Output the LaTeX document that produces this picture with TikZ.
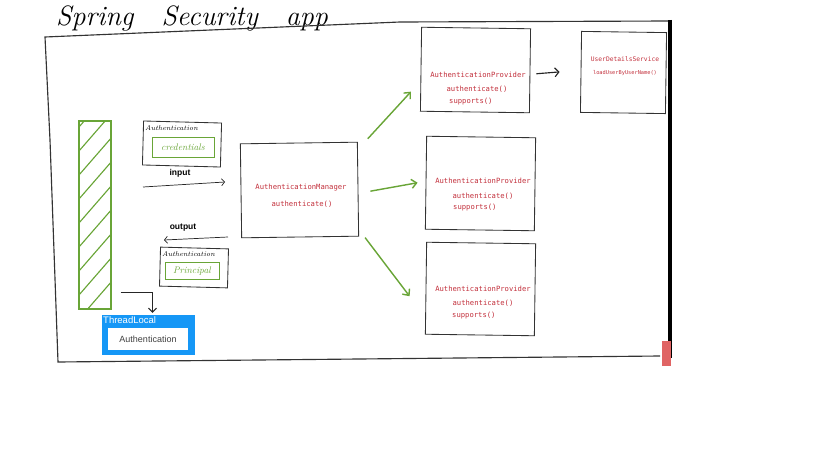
\documentclass[tikz,border=0pt]{standalone}
\usepackage{fontspec}
\setsansfont{Liberation Sans}
\setmonofont{DejaVu Sans Mono}
\usetikzlibrary{positioning,arrows.meta}

\definecolor{codered}{HTML}{C2303C}
\definecolor{sketchgreen}{HTML}{69A537}
\definecolor{tlblue}{HTML}{1597F6}
\definecolor{markred}{HTML}{E06464}

\tikzset{
  sketchbox/.style={draw=black!80, line width=0.3mm, inner sep=0pt},
  codetext/.style={text=codered, inner sep=0pt, font=\ttfamily\fontsize{7.2}{8}\selectfont},
  handlabel/.style={inner sep=0pt, font=\itshape\fontsize{7}{8}\selectfont},
  greenlabel/.style={draw=sketchgreen, text=sketchgreen, line width=0.3mm, inner sep=0pt, font=\itshape\fontsize{9.5}{10}\selectfont},
  flowtext/.style={inner sep=0pt, font=\sffamily\bfseries\fontsize{8.5}{9}\selectfont},
  greenarrow/.style={draw=sketchgreen, line width=0.5mm, -{Straight Barb[length=5pt,width=9pt]}},
  thinarrow/.style={draw=black!85, line width=0.25mm, -{Straight Barb[length=3pt,width=7pt]}},
}

\begin{document}
\begin{tikzpicture}[x=1pt, y=-1pt]
		%%%%% START %%%%%
		\useasboundingbox (0,0) rectangle (819,460);
		
		\node[anchor=base, inner sep=0pt, font=\itshape\fontsize{28}{30}\selectfont] (title) at (192,26) {Spring\quad Security\quad app};
		
		% outer frame
		\draw[line width=0.4mm, color=black!80] (670,21) -- (400,22) -- (45,37) -- (50,140) -- (58,362) -- (660,356);
		\draw[line width=1.3mm, color=black] (670,20) -- (670,358);
		\draw[fill=markred, draw=none] (662,341) rectangle (671,366);
		
		% security context
		\node[draw=sketchgreen, line width=0.45mm, minimum width=32pt, minimum height=188pt, inner sep=0pt,
			path picture={\foreach \k in {0,...,8}
				\draw[sketchgreen, line width=0.4mm] ([yshift=\k*24pt-10pt]path picture bounding box.south west) -- ++(40pt,46pt);}] (ctx) at (95,215) {};
		
		\node[fill=tlblue, minimum width=93pt, minimum height=40pt, inner sep=0pt] (tl) at (148.5,335) {};
		\node[anchor=north west, inner sep=0pt, text=white, font=\sffamily\fontsize{9.5}{10}\selectfont] (tllabel) at (103,316) {ThreadLocal};
		\node[fill=white, minimum width=80pt, minimum height=22pt, inner sep=0pt, text=black!75, font=\sffamily\fontsize{9}{10}\selectfont] (tlauth) at (148,339) {Authentication};
		\draw[line width=0.35mm, color=black!85, -{Straight Barb[length=4pt,width=8pt]}] ([xshift=9pt, yshift=17pt]ctx.south east) -| ([xshift=4pt, yshift=2pt]tl.north);
		
		% input
		\node[sketchbox, minimum width=78pt, minimum height=44pt, rotate=-1.5] (authin) at (182,144) {};
		\node[handlabel, anchor=west] (authinlabel) at (145,128) {Authentication};
		\node[greenlabel, minimum width=62pt, minimum height=20pt] (cred) at (183,147.5) {credentials};
		\node[flowtext] (inlabel) at (180,173) {input};
		\coordinate (inS) at (143,187);
		\coordinate (inE) at (225,182);
		\draw[thinarrow] (inS) -- (inE);
		
		% output
		\node[flowtext] (outlabel) at (183,228) {output};
		\coordinate (outS) at (228,237);
		\coordinate (outE) at (164,240);
		\draw[thinarrow] (outS) -- (outE);
		\node[sketchbox, minimum width=68pt, minimum height=39pt, rotate=-1.5] (authout) at (194,267.5) {};
		\node[handlabel, anchor=west] (authoutlabel) at (162,254) {Authentication};
		\node[greenlabel, minimum width=54pt, minimum height=17pt] (princ) at (192,271) {Principal};
		
		% manager
		\node[sketchbox, minimum width=117pt, minimum height=94pt, rotate=0.8] (mgr) at (299.5,190) {};
		\node[codetext] (mgrname) at (301,188) {AuthenticationManager};
		\node[codetext] (mgrauth) at (302,204) {authenticate()};
		
		% providers
		\node[sketchbox, minimum width=109pt, minimum height=84pt, rotate=-0.8] (prov1) at (475.5,70) {};
		\node[codetext] (prov1name) at (478,75) {AuthenticationProvider};
		\node[codetext] (prov1auth) at (477,89) {authenticate()};
		\node[codetext, anchor=west] (prov1sup) at (449,102) {supports()};
		
		\node[sketchbox, minimum width=109pt, minimum height=93pt, rotate=-0.8] (prov2) at (480.5,183.5) {};
		\node[codetext] (prov2name) at (483,181) {AuthenticationProvider};
		\node[codetext] (prov2auth) at (483,196) {authenticate()};
		\node[codetext, anchor=west] (prov2sup) at (453,208) {supports()};
		
		\node[sketchbox, minimum width=109pt, minimum height=92pt, rotate=-0.8] (prov3) at (480.5,289) {};
		\node[codetext] (prov3name) at (483,289) {AuthenticationProvider};
		\node[codetext] (prov3auth) at (483,303) {authenticate()};
		\node[codetext, anchor=west] (prov3sup) at (452,316) {supports()};
		
		\draw[greenarrow] ([xshift=10pt, yshift=3pt]mgr.north east) -- ([xshift=-9pt, yshift=20pt]prov1.south west);
		\draw[greenarrow] ([xshift=12pt, yshift=-2pt]mgr.east) -- ([xshift=-8pt]prov2.west);
		\draw[greenarrow] ([xshift=6pt, yshift=-1pt]mgr.south east) -- ([xshift=-16pt, yshift=-8pt]prov3.west);
		
		% user details
		\node[sketchbox, minimum width=85pt, minimum height=81pt, rotate=-0.8] (uds) at (623.5,72.5) {};
		\node[codetext, font=\ttfamily\fontsize{6.3}{7}\selectfont] (udsname) at (625,59) {UserDetailsService};
		\node[codetext, font=\ttfamily\fontsize{5.3}{6}\selectfont] (udsload) at (625,73) {loadUserByUserName()};
		
		\draw[line width=0.4mm, color=black!85, -{Straight Barb[length=4pt,width=9pt]}] ([xshift=6pt, yshift=-3pt]prov1.east) -- ([xshift=-21pt]uds.west);
		
		%%%%% END %%%%%
	\end{tikzpicture}
\end{document}
